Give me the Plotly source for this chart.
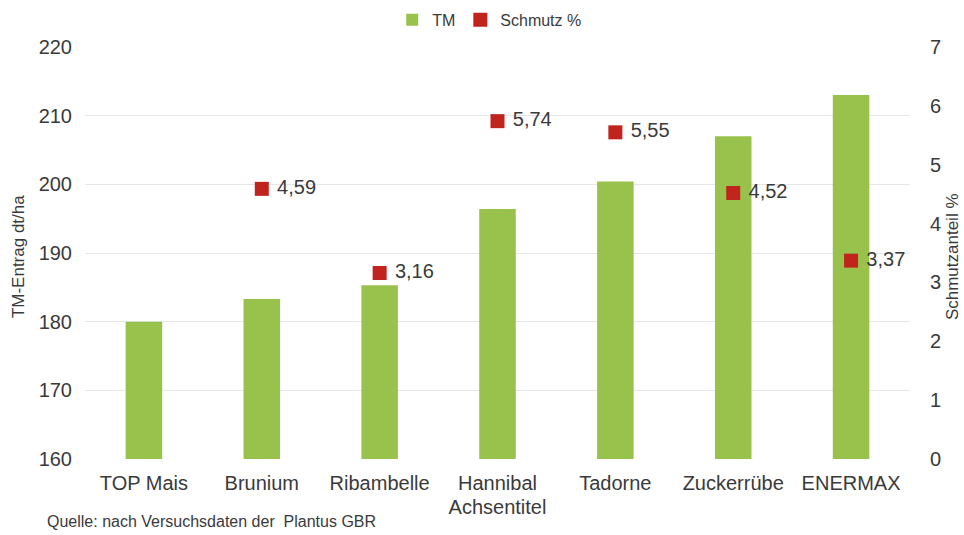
import plotly.graph_objects as go

categories = ["TOP Mais", "Brunium", "Ribambelle", "Hannibal", "Tadorne", "Zuckerrübe", "ENERMAX"]
tm_values = [180.0, 183.3, 185.3, 196.4, 200.4, 207.0, 213.0]
schmutz_values = [None, 4.59, 3.16, 5.74, 5.55, 4.52, 3.37]
left_ticks = [160, 170, 180, 190, 200, 210, 220]
right_ticks = [0, 1, 2, 3, 4, 5, 6, 7]

schmutz_text = ["" if v is None else " " + f"{v:.2f}".replace(".", ",") for v in schmutz_values]

FONT = "Liberation Sans, Arial, sans-serif"
TXT = "#3a3a3a"

fig = go.Figure()
fig.add_trace(go.Bar(
    x=categories, y=tm_values, name="TM",
    marker=dict(color="#99c24d", line=dict(width=0)),
    width=0.31,
))
fig.add_trace(go.Scatter(
    x=categories, y=schmutz_values, name="Schmutz %", yaxis="y2",
    mode="markers+text", text=schmutz_text, textposition="middle right",
    textfont=dict(size=20, color=TXT, family=FONT),
    marker=dict(symbol="square", size=14, color="#c0241c"),
    cliponaxis=False,
))

fig.update_layout(
    width=964, height=535,
    margin=dict(l=85, r=54, t=47, b=76, autoexpand=False),
    paper_bgcolor="white", plot_bgcolor="white",
    font=dict(family=FONT, size=20, color=TXT),
    bargap=0.69,
    showlegend=True,
    legend=dict(orientation="h", x=0.508, xanchor="center", xref="container",
                y=0.963, yanchor="middle", yref="container",
                font=dict(size=16, color=TXT), traceorder="normal",
                itemwidth=30, tracegroupgap=0),
    xaxis=dict(
        title=dict(text="Achsentitel", font=dict(size=20, color=TXT), standoff=6),
        showgrid=False, showline=False, ticks="outside", ticklen=6,
        tickcolor="rgba(0,0,0,0)", tickfont=dict(size=20, color=TXT),
        automargin=False,
    ),
    yaxis=dict(
        range=[160, 220], tickvals=left_ticks, ticktext=[str(t) for t in left_ticks],
        showgrid=True, gridcolor="#e4e6ea", gridwidth=1,
        zeroline=False, showline=False, ticks="outside", ticklen=8, tickcolor="rgba(0,0,0,0)",
        tickfont=dict(size=20, color=TXT), automargin=False,
    ),
    yaxis2=dict(
        overlaying="y", side="right",
        range=[0, 7], tickvals=right_ticks, ticktext=[str(t) for t in right_ticks],
        showgrid=False, zeroline=False, showline=False,
        ticks="outside", ticklen=15, tickcolor="rgba(0,0,0,0)",
        tickfont=dict(size=20, color=TXT), automargin=False,
    ),
    annotations=[
        dict(text="Quelle: nach Versuchsdaten der  Plantus GBR",
             xref="paper", yref="paper", x=0, xshift=-40, y=0, yshift=-62,
             xanchor="left", yanchor="middle",
             showarrow=False, font=dict(size=16, color=TXT, family=FONT)),
        dict(text="TM-Entrag dt/ha", textangle=-90,
             xref="paper", yref="paper", x=0, xshift=-67, y=0.49,
             xanchor="center", yanchor="middle",
             showarrow=False, font=dict(size=17, color=TXT, family=FONT)),
        dict(text="Schmutzanteil %", textangle=-90,
             xref="paper", yref="paper", x=1, xshift=42, y=0.49,
             xanchor="center", yanchor="middle",
             showarrow=False, font=dict(size=17, color=TXT, family=FONT)),
    ],
)

fig.write_html(
    "out.html",
    config={"displayModeBar": False},
    post_script="document.body.style.margin='0';document.body.style.overflow='hidden';",
)
